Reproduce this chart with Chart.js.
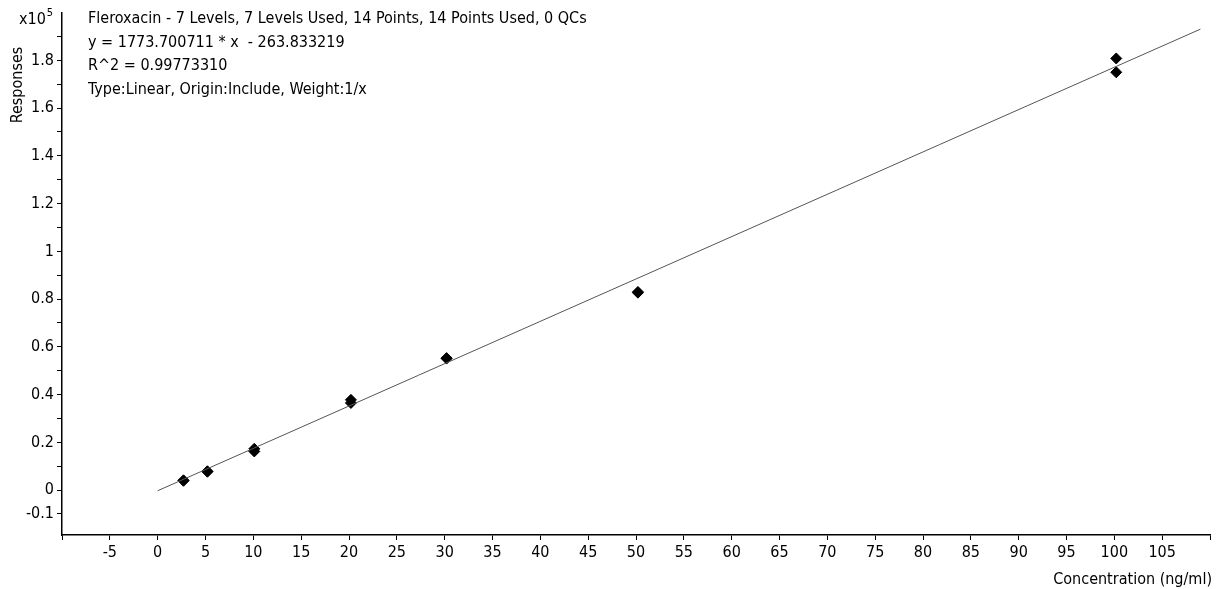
<!DOCTYPE html>
<html>
<head>
<meta charset="utf-8">
<script src="https://cdn.jsdelivr.net/npm/chart.js@4/dist/chart.umd.min.js"></script>
<style>
  html, body { margin: 0; padding: 0; background: #fff; }
  #wrap { width: 1218px; height: 589px; position: relative; }
</style>
</head>
<body>
<div id="wrap"><canvas id="calib"></canvas></div>
<script>
// calibration points (concentration ng/ml, response)
const concentrations = [2.7, 2.7, 5.2, 5.2, 10.1, 10.1, 20.2, 20.2, 30.2, 30.2, 50.2, 50.2, 100.2, 100.2];
const responses = [3900, 4100, 7700, 7900, 16200, 17300, 36500, 37800, 55100, 55300, 82700, 83000, 175000, 180800];

// fitted line end points
const fitX = [0, 109];
const fitY = [-264, 193070];

// axis ticks
const xTicks = [-10, -5, 0, 5, 10, 15, 20, 25, 30, 35, 40, 45, 50, 55, 60, 65, 70, 75, 80, 85, 90, 95, 100, 105, 110];
const xTickLabels = ['', '-5', '0', '5', '10', '15', '20', '25', '30', '35', '40', '45', '50', '55', '60', '65', '70', '75', '80', '85', '90', '95', '100', '105', ''];
const yTicks = [-10000, 0, 10000, 20000, 30000, 40000, 50000, 60000, 70000, 80000, 90000, 100000,
  110000, 120000, 130000, 140000, 150000, 160000, 170000, 180000, 190000];
const yTickLabels = ['-0.1', '0', '', '0.2', '', '0.4', '', '0.6', '', '0.8', '', '1',
  '', '1.2', '', '1.4', '', '1.6', '', '1.8', ''];

const infoLines = [
  'Fleroxacin - 7 Levels, 7 Levels Used, 14 Points, 14 Points Used, 0 QCs',
  'y = 1773.700711 * x  - 263.833219',
  'R^2 = 0.99773310',
  'Type:Linear, Origin:Include, Weight:1/x'
];

const FONT = '"Liberation Sans Narrow", "DejaVu Sans Condensed", "Roboto Condensed", sans-serif';

// text that sits outside the normal axis titles
const annotations = {
  id: 'annotations',
  afterDraw(chart) {
    const ctx = chart.ctx;
    ctx.save();
    ctx.fillStyle = '#000';
    ctx.textBaseline = 'alphabetic';
    ctx.font = '16px ' + FONT;
    ctx.textAlign = 'left';
    infoLines.forEach((t, i) => ctx.fillText(t, 88, 23 + i * 23.5));

    // x10^5 multiplier
    ctx.font = '16px ' + FONT;
    ctx.fillText('x10', 19, 24);
    const w = ctx.measureText('x10').width;
    ctx.font = '11px ' + FONT;
    ctx.fillText('5', 19 + w + 1, 16);

    // y title
    ctx.font = '16px ' + FONT;
    ctx.translate(22, 85);
    ctx.rotate(-Math.PI / 2);
    ctx.textAlign = 'center';
    ctx.fillText('Responses', 0, 0);
    ctx.restore();

    ctx.save();
    ctx.font = '16px ' + FONT;
    ctx.fillStyle = '#000';
    ctx.textAlign = 'right';
    ctx.fillText('Concentration (ng/ml)', 1212, 584);
    ctx.restore();
  }
};

new Chart(document.getElementById('calib'), {
  type: 'scatter',
  data: {
    datasets: [{
      label: 'Fit',
      type: 'line',
      data: fitX.map((x, i) => ({ x: x, y: fitY[i] })),
      borderColor: '#555',
      borderWidth: 1,
      pointRadius: 0,
      fill: false
    }, {
      label: 'Calibration points',
      data: concentrations.map((x, i) => ({ x: x, y: responses[i] })),
      pointStyle: 'rectRot',
      pointRadius: 5.5,
      backgroundColor: '#000',
      borderColor: '#000',
      borderWidth: 1
    }]
  },
  options: {
    responsive: true,
    maintainAspectRatio: false,
    animation: false,
    layout: { padding: { top: 12, right: 8, left: 0, bottom: 0 } },
    plugins: {
      legend: { display: false },
      tooltip: { enabled: false }
    },
    scales: {
      x: {
        type: 'linear',
        min: -10,
        max: 110,
        afterBuildTicks: scale => { scale.ticks = xTicks.map(v => ({ value: v })); },
        afterFit: scale => { scale.height = 54; },
        border: { display: true, color: '#000', width: 1.5 },
        grid: { drawOnChartArea: false, tickLength: 5, color: '#000', tickColor: '#000' },
        ticks: {
          autoSkip: false,
          maxRotation: 0,
          padding: 3,
          color: '#000',
          font: { family: FONT, size: 16 },
          callback: v => xTickLabels[xTicks.indexOf(v)] ?? ''
        }
      },
      y: {
        type: 'linear',
        min: -18800,
        max: 200000,
        afterBuildTicks: scale => { scale.ticks = yTicks.map(v => ({ value: v })); },
        afterFit: scale => { scale.width = 62; },
        border: { display: true, color: '#000', width: 1.5 },
        grid: { drawOnChartArea: false, tickLength: 5, color: '#000', tickColor: '#000' },
        ticks: {
          autoSkip: false,
          padding: 3,
          color: '#000',
          font: { family: FONT, size: 16 },
          callback: v => yTickLabels[yTicks.indexOf(v)] ?? ''
        }
      }
    }
  },
  plugins: [annotations]
});
</script>
</body>
</html>
